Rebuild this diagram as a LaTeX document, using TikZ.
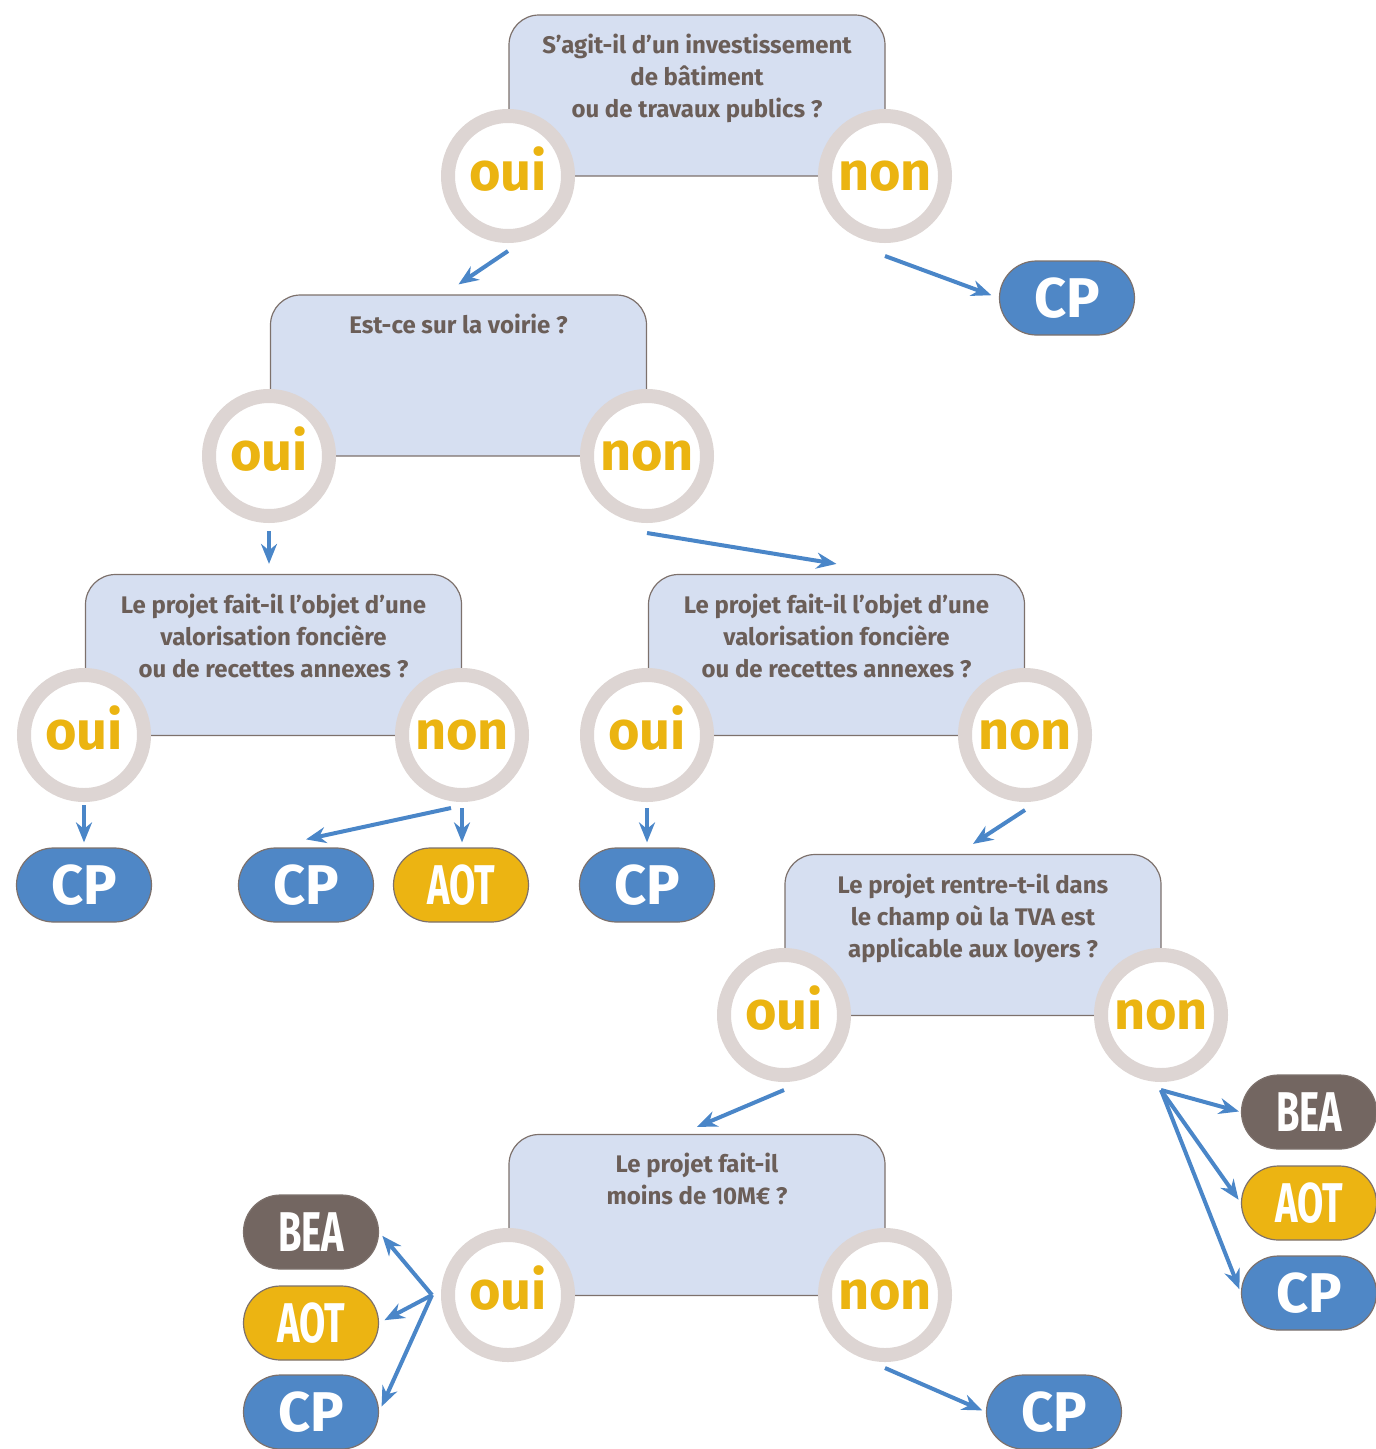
\documentclass[tikz,border=0pt]{standalone}
\usepackage{fontspec}
\setmainfont{Fira Sans}
\usepackage{tikz}
\usetikzlibrary{arrows.meta,calc,positioning,shapes.misc}

\definecolor{boxfill}{HTML}{D6DFF1}
\definecolor{boxline}{HTML}{7D716C}
\definecolor{ringcol}{HTML}{DDD5D3}
\definecolor{ouiyel}{HTML}{EBB411}
\definecolor{cpblue}{HTML}{4F87C6}
\definecolor{beabrown}{HTML}{736661}
\definecolor{aotyel}{HTML}{ECB412}
\definecolor{arrowblue}{HTML}{4A86C8}
\definecolor{txtbrown}{HTML}{6B5E58}

\begin{document}
\begin{tikzpicture}[x=1pt,y=-1pt,>={Stealth[length=20pt,width=16pt]},
  question/.style={draw=boxline,line width=1.2pt,fill=boxfill,rounded corners=30pt,
    minimum width=376pt,minimum height=161pt,inner sep=0pt},
  qtext/.style={text=txtbrown,font=\fontsize{24}{32}\selectfont\bfseries,align=center,
    anchor=north,inner sep=0pt},
  ring/.style={circle,draw=ringcol,line width=14pt,fill=white,minimum size=120pt,
    inner sep=0pt,text height=28pt,text depth=0pt,text=ouiyel,
    font=\fontsize{54}{54}\selectfont\bfseries},
  pill/.style={rounded rectangle,draw=boxline,line width=1.2pt,minimum width=135pt,
    minimum height=74pt,inner sep=0pt,text=white,font=\fontsize{56}{56}\selectfont\bfseries},
  cp/.style={pill,fill=cpblue},
  bea/.style={pill,fill=beabrown},
  aot/.style={pill,fill=aotyel},
  arr/.style={->,draw=arrowblue,line width=4pt}]
  \useasboundingbox (0,0) rectangle (1376,1449);

  % question 1
  \node[question] (q1) at (697,95.5) {};
  \node[qtext] (q1t) at (697,34) {S’agit-il d’un investissement\\de bâtiment\\ou de travaux publics ?};
  \node[ring] (oui1) at (508,176) {oui};
  \node[ring] (non1) at (885,176) {non};
  \node[cp] (cp1) at (1067,298) {CP};

  % question 2
  \node[question] (q2) at (458.5,375.5) {};
  \node[qtext] (q2t) at (458.5,314) {Est-ce sur la voirie ?};
  \node[ring] (oui2) at (269,456) {oui};
  \node[ring] (non2) at (647,456) {non};

  % questions 3 et 4
  \node[question] (q3) at (273.5,655) {};
  \node[qtext] (q3t) at (273.5,594) {Le projet fait-il l’objet d’une\\valorisation foncière\\ou de recettes annexes ?};
  \node[ring] (oui3) at (84,735) {oui};
  \node[ring] (non3) at (462,735) {non};
  \node[question] (q4) at (836.5,655) {};
  \node[qtext] (q4t) at (836.5,594) {Le projet fait-il l’objet d’une\\valorisation foncière\\ou de recettes annexes ?};
  \node[ring] (oui4) at (647,735) {oui};
  \node[ring] (non4) at (1025,735) {non};
  \node[cp] (cp2) at (84,885) {CP};
  \node[cp] (cp3) at (306,885) {CP};
  \node[aot] (aot1) at (461,885) {\scalebox{0.68}[1]{AOT}};
  \node[cp] (cp4) at (647,885) {CP};

  % question 5
  \node[question] (q5) at (973,935) {};
  \node[qtext] (q5t) at (973,874) {Le projet rentre-t-il dans\\le champ où la TVA est\\applicable aux loyers ?};
  \node[ring] (oui5) at (784,1015) {oui};
  \node[ring] (non5) at (1161,1015) {non};
  \node[bea] (bea1) at (1309,1112) {\scalebox{0.68}[1]{BEA}};
  \node[aot] (aot2) at (1309,1203) {\scalebox{0.68}[1]{AOT}};
  \node[cp] (cp5) at (1309,1293) {CP};

  % question 6
  \node[question] (q6) at (697,1215) {};
  \node[qtext] (q6t) at (697,1153) {Le projet fait-il\\moins de 10M€ ?};
  \node[ring] (oui6) at (508,1295) {oui};
  \node[ring] (non6) at (885,1295) {non};
  \node[bea] (bea2) at (311,1232) {\scalebox{0.68}[1]{BEA}};
  \node[aot] (aot3) at (311,1323) {\scalebox{0.68}[1]{AOT}};
  \node[cp] (cp6) at (311,1412) {CP};
  \node[cp] (cp7) at (1054,1412) {CP};

  % fleches
  \draw[arr] ([yshift=-8pt]oui1.south) -- ([yshift=10pt]q2.north);
  \draw[arr,shorten >=8pt] ([yshift=-13pt]non1.south) -- (cp1.west);
  \draw[arr,shorten <=8pt,shorten >=10pt] (oui2.south) -- (oui2.south |- q3.north);
  \draw[arr] ([yshift=-10pt]non2.south) -- ([yshift=10pt]q4.north);
  \draw[arr,shorten <=3pt,shorten >=5pt] (oui3.south) -- (oui3.south |- cp2.north);
  \draw[arr] ([xshift=-11pt,yshift=-6pt]non3.south) -- ([yshift=8pt]cp3.north);
  \draw[arr,shorten <=6pt,shorten >=5pt] (non3.south) -- (non3.south |- aot1.north);
  \draw[arr,shorten <=6pt,shorten >=5pt] (oui4.south) -- (oui4.south |- cp4.north);
  \draw[arr] ([yshift=-8pt]non4.south) -- ([yshift=10pt]q5.north);
  \draw[arr] ([yshift=-8pt]oui5.south) -- ([yshift=7pt]q6.north);
  \draw[arr,shorten >=2pt] ([yshift=-8pt]non5.south) -- (bea1.west);
  \draw[arr,shorten >=4pt] ([yshift=-8pt]non5.south) -- (aot2.west);
  \draw[arr,shorten >=4pt] ([yshift=-8pt]non5.south) -- (cp5.west);
  \draw[arr,shorten >=5pt] ([xshift=-9pt]oui6.west) -- (bea2.east);
  \draw[arr,shorten >=6pt] ([xshift=-9pt]oui6.west) -- (aot3.east);
  \draw[arr,shorten >=6pt] ([xshift=-9pt]oui6.west) -- (cp6.east);
  \draw[arr,shorten >=4pt] ([yshift=-6pt]non6.south) -- (cp7.west);
\end{tikzpicture}
\end{document}
